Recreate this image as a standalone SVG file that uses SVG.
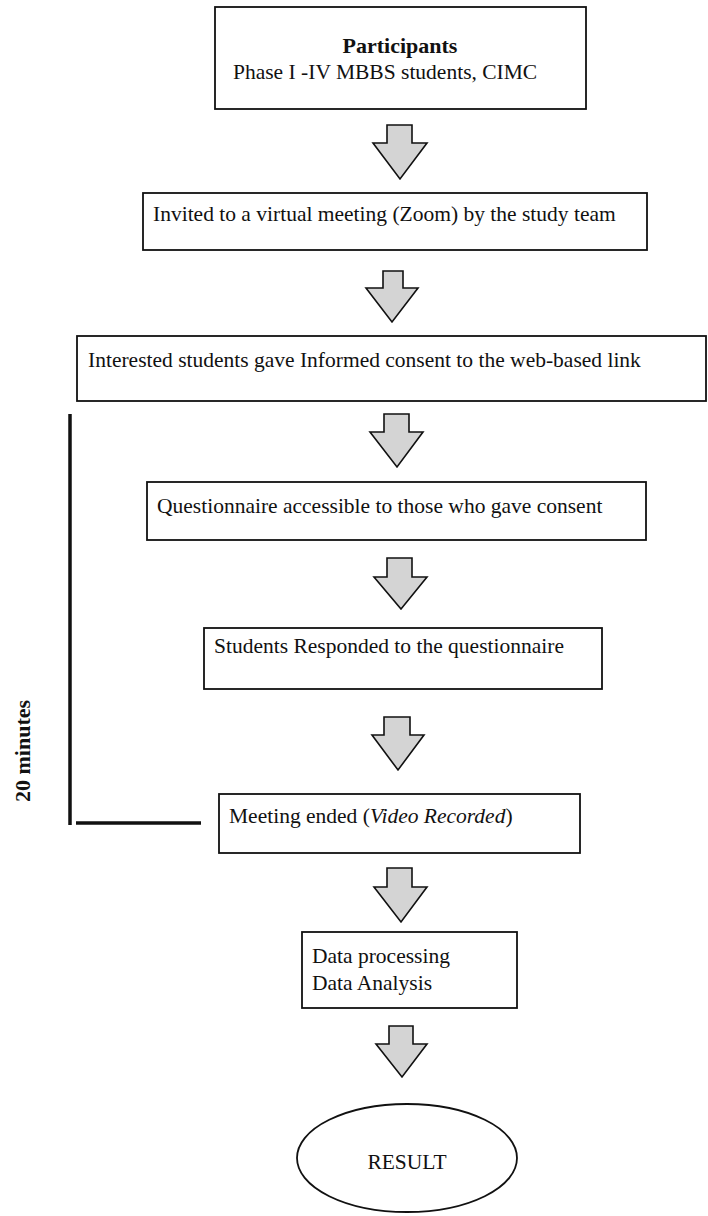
<svg xmlns="http://www.w3.org/2000/svg" width="708" height="1216" viewBox="0 0 708 1216">
<style>
.box{fill:#fff;stroke:#111;stroke-width:1.8}
.arr{fill:#d4d4d4;stroke:#111;stroke-width:1.6;stroke-linejoin:miter}
.t{font-family:"Liberation Serif","Times New Roman",serif;font-size:21.5px;fill:#111}
.b{font-weight:bold;font-size:22px}
.bar{stroke:#111;stroke-width:3.5;fill:none}
</style>
<rect width="708" height="1216" fill="#fff"/>
<g id="connectors">
<path class="arr" d="M387,125 H412 V143 H427 L400,179 L373,143 H387 Z"/>
<path class="arr" d="M383,271 H403 V288 H418 L392,322 L366,288 H383 Z"/>
<path class="arr" d="M384,414 H409 V432 H423 L397,467 L370,432 H384 Z"/>
<path class="arr" d="M387,558 H412 V577 H427 L401,609 L374,577 H387 Z"/>
<path class="arr" d="M384,717 H410 V735 H424 L398,770 L372,735 H384 Z"/>
<path class="arr" d="M387,868 H412 V887 H427 L401,922 L374,887 H387 Z"/>
<path class="arr" d="M389,1026 H413 V1044 H427 L402,1077 L376,1044 H389 Z"/>
</g>
<g id="timebar">
<line class="bar" x1="70" y1="414" x2="70" y2="825"/>
<line class="bar" x1="76" y1="823" x2="201" y2="823"/>
<text class="t b" transform="translate(30,751) rotate(-90)" text-anchor="middle">20 minutes</text>
</g>
<g id="n1">
<rect class="box" x="215" y="7" width="371" height="102"/>
<text class="t b" x="400" y="53" text-anchor="middle">Participants</text>
<text class="t" x="233" y="79">Phase I -IV MBBS students, CIMC</text>
</g>
<g id="n2">
<rect class="box" x="143" y="193" width="504" height="57"/>
<text class="t" x="153" y="221">Invited to a virtual meeting (Zoom) by the study team</text>
</g>
<g id="n3">
<rect class="box" x="77" y="336" width="629" height="65"/>
<text class="t" x="88" y="367">Interested students gave Informed consent to the web-based link</text>
</g>
<g id="n4">
<rect class="box" x="147" y="482" width="499" height="58"/>
<text class="t" x="157" y="513">Questionnaire accessible to those who gave consent</text>
</g>
<g id="n5">
<rect class="box" x="204" y="628" width="398" height="61"/>
<text class="t" x="214" y="653">Students Responded to the questionnaire</text>
</g>
<g id="n6">
<rect class="box" x="219" y="794" width="361" height="59"/>
<text class="t" x="229" y="823">Meeting ended (<tspan font-style="italic">Video Recorded</tspan>)</text>
</g>
<g id="n7">
<rect class="box" x="302" y="932" width="215" height="76"/>
<text class="t" x="312" y="963">Data processing</text>
<text class="t" x="312" y="990">Data Analysis</text>
</g>
<g id="n8">
<ellipse class="box" cx="407" cy="1158" rx="110" ry="54"/>
<text class="t" x="407" y="1169" text-anchor="middle">RESULT</text>
</g>
</svg>
